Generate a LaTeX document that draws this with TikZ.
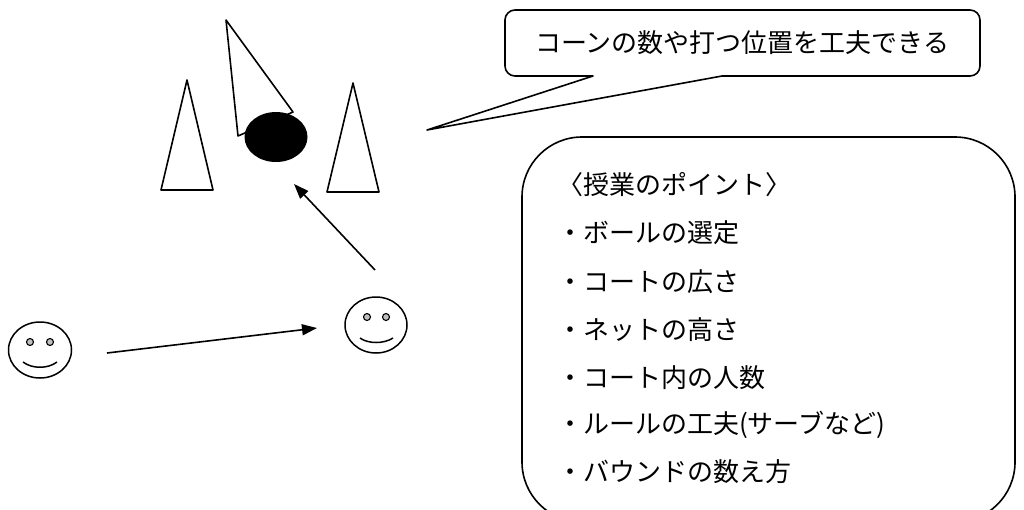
\documentclass[tikz,border=0pt]{standalone}
\usepackage{fontspec}
\newfontfamily\jp{Noto Sans CJK JP}
\usetikzlibrary{arrows.meta,shapes.geometric}
\begin{document}
\begin{tikzpicture}[x=1pt,y=-1pt,line join=round,
  outline/.style={draw=black,line width=1.6pt},
  cone/.style={outline,fill=white},
  face/.style={draw=black,line width=1.5pt},
  eye/.style={draw=black,fill=black!25,line width=1.1pt},
  pass/.style={line width=1.6pt,-{Triangle[length=15pt,width=11pt]}},
  memo/.style={font=\jp\fontsize{26}{26}\selectfont,inner sep=0pt,anchor=west},
]
\useasboundingbox (0,0) rectangle (1024,509);
\clip (0,0) rectangle (1024,509);

% cones and ball
\draw[cone] (187,80) -- (161,190) -- (213,190) -- cycle;
\draw[cone] (353,83) -- (327,192) -- (379,192) -- cycle;
\draw[cone] (226,20) -- (293,112) -- (238,136) -- cycle;
\node[ellipse,fill=black,minimum width=63pt,minimum height=50pt,inner sep=0pt] (ball) at (276,137) {};

% players
\node[ellipse,face,minimum width=63pt,minimum height=56pt,inner sep=0pt] (p1) at (40,350) {};
\draw[eye] (30,342) circle[radius=3.5pt];
\draw[eye] (50,342) circle[radius=3.5pt];
\draw[face] (23,362) .. controls (32,369) and (48,369) .. (57,362);

\node[ellipse,face,minimum width=62pt,minimum height=56pt,inner sep=0pt] (p2) at (376,325) {};
\draw[eye] (367,317) circle[radius=3.5pt];
\draw[eye] (386,317) circle[radius=3.5pt];
\draw[face] (360,338) .. controls (368,344) and (384,344) .. (393,338);

% passes
\coordinate (pa) at (107,353);
\coordinate (pb) at (317,328);
\coordinate (pc) at (375,270);
\coordinate (pd) at (294,184);
\draw[pass] (pa) -- (pb);
\draw[pass] (pc) -- (pd);

% speech balloon
\coordinate (tail) at (427,130);
\draw[outline] (593,76) -- (tail) -- (722,76) -- (970,76) [rounded corners=10pt]
  -- (980,76) -- (980,10) -- (505,10) -- (505,76) -- (583,76) [sharp corners] -- cycle;
\node[memo] (idea) at (535,43) {コーンの数や打つ位置を工夫できる};

% lesson points
\draw[outline,rounded corners=60pt] (522,137) rectangle (1015,522);
\node[memo] (head) at (557,185) {〈授業のポイント〉};
\node[memo] (pt1) at (557,233) {・ボールの選定};
\node[memo] (pt2) at (557,282) {・コートの広さ};
\node[memo] (pt3) at (557,330) {・ネットの高さ};
\node[memo] (pt4) at (557,378) {・コート内の人数};
\node[memo] (pt5) at (557,425) {・ルールの工夫(サーブなど)};
\node[memo] (pt6) at (557,472) {・バウンドの数え方};
\end{tikzpicture}
\end{document}
